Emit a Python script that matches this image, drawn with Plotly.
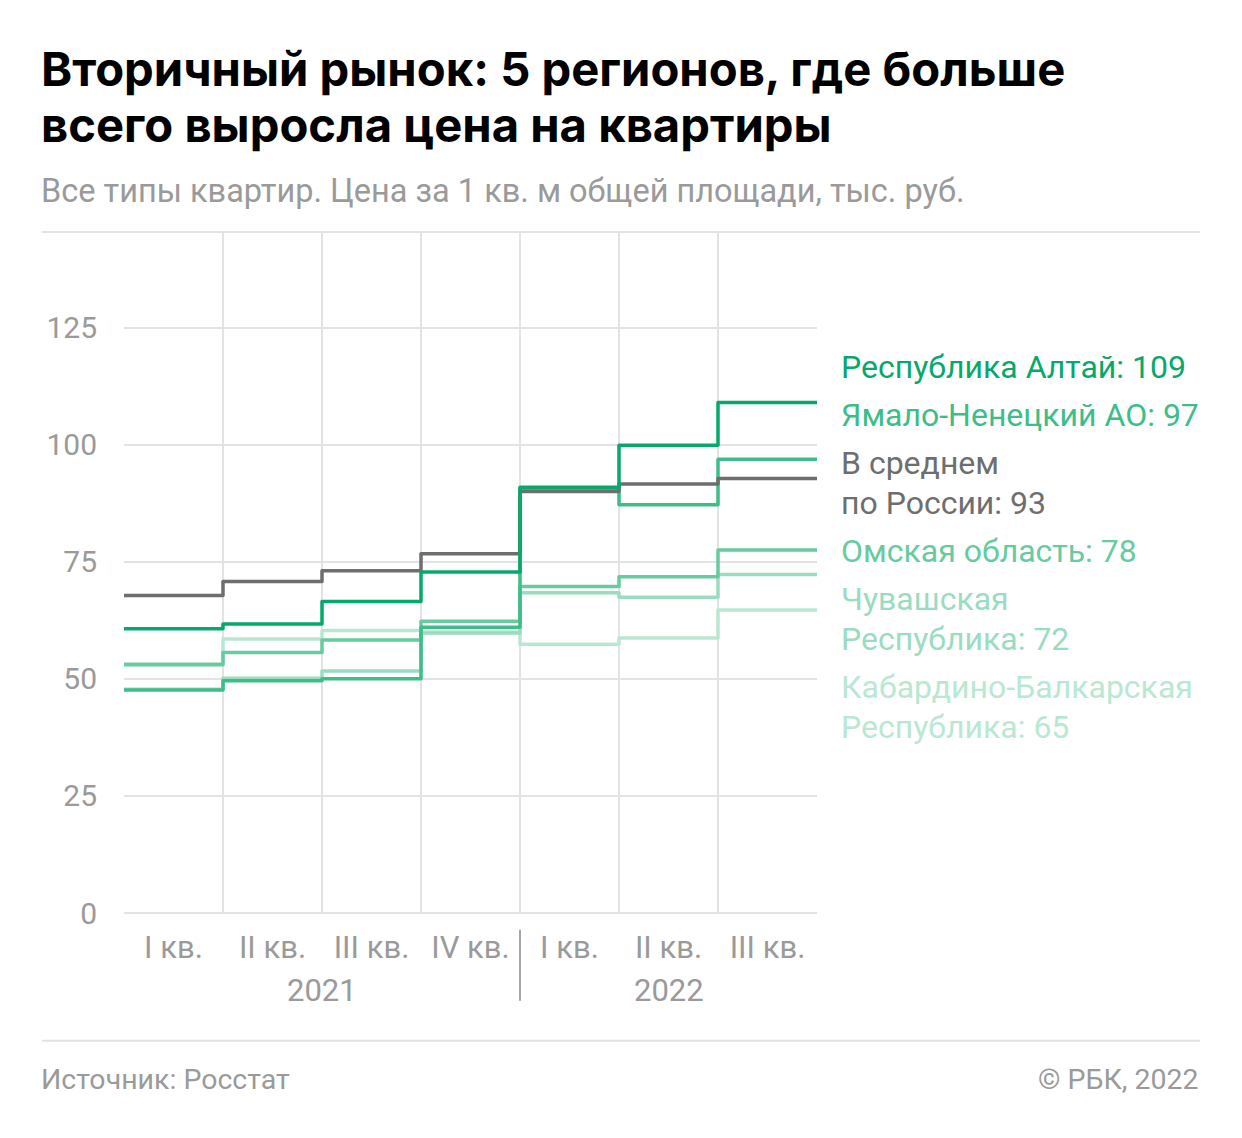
import plotly.graph_objects as go

# ---------------- data ----------------
quarters = ["I кв.", "II кв.", "III кв.", "IV кв.", "I кв.", "II кв.", "III кв."]
years = ["2021", "2022"]

altai = [60.7, 61.7, 66.5, 72.8, 90.9, 99.9, 109.0]
yamal = [47.6, 49.6, 50.0, 61.0, 90.6, 87.2, 96.9]
russia = [67.8, 70.8, 73.1, 76.7, 90.0, 91.6, 92.8]
omsk = [53.0, 55.6, 58.3, 62.3, 69.7, 71.8, 77.5]
chuvash = [47.8, 50.1, 51.7, 59.8, 68.4, 67.4, 72.3]
kabardino = [53.2, 58.5, 60.3, 60.0, 57.4, 58.7, 64.7]

y_ticks = [0, 25, 50, 75, 100, 125]

# ---------------- styling ----------------
W, H = 1242, 1138
L, R, T, B = 124, 817, 233, 913.3
FONT = "Roboto"
GRAY_TXT = "#9a9a9a"
GRID = "#e3e3e3"

C_ALTAI = "#05a96b"
C_YAMAL = "#3dbd88"
C_RUS = "#6e6e6e"
C_OMSK = "#66cb9f"
C_CHUV = "#9adcc0"
C_KAB = "#b9e8d2"

series = [
    ("kabardino", kabardino, C_KAB),
    ("chuvash", chuvash, C_CHUV),
    ("omsk", omsk, C_OMSK),
    ("yamal", yamal, C_YAMAL),
    ("russia", russia, C_RUS),
    ("altai", altai, C_ALTAI),
]

fig = go.Figure()
xs = list(range(len(quarters) + 1))
for name, vals, col in series:
    fig.add_trace(go.Scatter(
        x=xs, y=list(vals) + [vals[-1]], mode="lines", name=name,
        line=dict(color=col, width=3.5, shape="hv"), hoverinfo="skip",
        showlegend=False,
    ))


def px_x(p):
    return (p - L) / (R - L)


def px_y(p):
    return (B - p) / (B - T)


ymax = 145.2

fig.update_layout(
    width=W, height=H,
    margin=dict(l=L, r=W - R, t=T, b=H - B, pad=0),
    paper_bgcolor="white", plot_bgcolor="white",
    font=dict(family=FONT, color=GRAY_TXT),
    xaxis=dict(
        range=[0, len(quarters)],
        tickvals=[i + 0.5 for i in range(len(quarters))],
        ticktext=quarters,
        showgrid=False, zeroline=False, showline=False,
        ticks="", tickfont=dict(size=31, color=GRAY_TXT, family=FONT),
        ticklabelstandoff=13,
        minor=dict(tickvals=list(range(len(quarters) + 1)), showgrid=True,
                   gridcolor=GRID, gridwidth=2, ticks=""),
        fixedrange=True,
    ),
    yaxis=dict(
        range=[0, ymax],
        tickvals=y_ticks,
        showgrid=True, gridcolor=GRID, gridwidth=2,
        zeroline=True, zerolinecolor=GRID, zerolinewidth=2,
        showline=False, ticks="",
        tickfont=dict(size=30, color=GRAY_TXT, family=FONT),
        ticklabelstandoff=26,
        fixedrange=True,
    ),
)

shapes = []
# top & bottom separators
for yp in (232, 1041):
    shapes.append(dict(type="line", xref="paper", yref="paper",
                       x0=px_x(42), x1=px_x(1200), y0=px_y(yp), y1=px_y(yp),
                       line=dict(color="#e3e3e3", width=2)))
# year separator
shapes.append(dict(type="line", xref="x", yref="paper", x0=4, x1=4,
                   y0=px_y(930), y1=px_y(1001),
                   line=dict(color="#8a8a8a", width=1.5)))
fig.update_layout(shapes=shapes)

ann = []
TITLE_FONT = dict(family="Inter", size=47.2, color="#000000", weight=900)
ann.append(dict(text="<b>Вторичный рынок: 5 регионов, где больше</b>", x=px_x(39), y=px_y(68),
                xref="paper", yref="paper", xanchor="left", yanchor="middle", showarrow=False,
                font=TITLE_FONT))
ann.append(dict(text="<b>всего выросла цена на квартиры</b>", x=px_x(39), y=px_y(124),
                xref="paper", yref="paper", xanchor="left", yanchor="middle", showarrow=False,
                font=TITLE_FONT))
ann.append(dict(text="Все типы квартир. Цена за 1 кв. м общей площади, тыс. руб.",
                x=px_x(39), y=px_y(191), xref="paper", yref="paper", xanchor="left",
                yanchor="middle", showarrow=False,
                font=dict(family=FONT, size=32.5, color=GRAY_TXT)))
# footers
ann.append(dict(text="Источник: Росстат", x=px_x(39), y=px_y(1080), xref="paper", yref="paper",
                xanchor="left", yanchor="middle", showarrow=False,
                font=dict(family=FONT, size=28.5, color=GRAY_TXT)))
ann.append(dict(text="© РБК, 2022", x=px_x(1200), y=px_y(1080), xref="paper", yref="paper",
                xanchor="right", yanchor="middle", showarrow=False,
                font=dict(family=FONT, size=28.5, color=GRAY_TXT)))
# years
ann.append(dict(text=years[0], x=2, y=px_y(991), xref="x", yref="paper", xanchor="center",
                yanchor="middle", showarrow=False, font=dict(family=FONT, size=31, color=GRAY_TXT)))
ann.append(dict(text=years[1], x=5.5, y=px_y(991), xref="x", yref="paper", xanchor="center",
                yanchor="middle", showarrow=False, font=dict(family=FONT, size=31, color=GRAY_TXT)))

# right-hand labels
labels = [
    ("Республика Алтай: 109", 367, C_ALTAI),
    ("Ямало-Ненецкий АО: 97", 415, C_YAMAL),
    ("В среднем", 463, C_RUS),
    ("по России: 93", 503, C_RUS),
    ("Омская область: 78", 551, C_OMSK),
    ("Чувашская", 599, C_CHUV),
    ("Республика: 72", 639, C_CHUV),
    ("Кабардино-Балкарская", 687, C_KAB),
    ("Республика: 65", 727, C_KAB),
]
for txt, yp, col in labels:
    ann.append(dict(text=txt, x=px_x(839), y=px_y(yp), xref="paper", yref="paper",
                    xanchor="left", yanchor="middle", showarrow=False,
                    font=dict(family=FONT, size=32, color=col)))

fig.update_layout(annotations=ann)

post = """
document.body.style.margin='0';
document.querySelectorAll('.scatterlayer path.js-line').forEach(function(p){
  p.style.strokeLinejoin='round'; p.style.strokeLinecap='round';});
"""
fig.write_html("out.html", config={"displayModeBar": False, "staticPlot": True}, post_script=post)
